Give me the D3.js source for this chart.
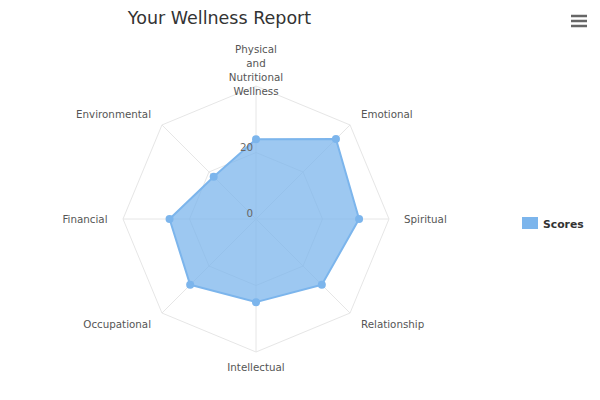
<!DOCTYPE html>
<html><head><meta charset="utf-8">
<script src="https://cdn.jsdelivr.net/npm/d3@7"></script>
<style>body{margin:0;background:#fff}svg{display:block}</style>
</head><body>
<svg id="chart" width="600" height="400"></svg>
<script>
const categories = ["Physical and Nutritional Wellness","Emotional","Spiritual","Relationship","Intellectual","Occupational","Financial","Environmental"];
const scores = [24, 34, 31, 28, 25, 28, 26, 18];
const radialTicks = [0, 20, 40];
const tickLabels = ["0", "20"];
const seriesName = "Scores";
const title = "Your Wellness Report";

const W = 600, H = 400, cx = 256, cy = 219, R = 133;
const FONT = "'DejaVu Sans', sans-serif";
const svg = d3.select("#chart");
svg.append("rect").attr("width", W).attr("height", H).attr("fill", "#fff");

const r = d3.scaleLinear().domain([0, 40]).range([0, R]);
const ang = d3.scaleLinear().domain([0, categories.length]).range([0, 2 * Math.PI]);
const pt = (i, v) => [cx + r(v) * Math.sin(ang(i)), cy - r(v) * Math.cos(ang(i))];

const g = svg.append("g");
// radial lines
categories.forEach((c, i) => {
  const [x, y] = pt(i, 40);
  g.append("line").attr("x1", cx).attr("y1", cy).attr("x2", x).attr("y2", y)
    .attr("stroke", "#e6e6e6").attr("stroke-width", 1);
});
// polygon grid rings
radialTicks.filter(t => t > 0).forEach(t => {
  const pts = categories.map((c, i) => pt(i, t));
  g.append("path").attr("d", d3.line()(pts) + "Z")
    .attr("fill", "none").attr("stroke", "#e6e6e6").attr("stroke-width", 1);
});

// series
const sp = categories.map((c, i) => pt(i, scores[i]));
g.append("path").attr("d", d3.line()(sp) + "Z")
  .attr("fill", "#7cb5ec").attr("fill-opacity", 0.75)
  .attr("stroke", "#7cb5ec").attr("stroke-width", 2).attr("stroke-linejoin", "round");
g.selectAll("circle.m").data(scores).enter().append("circle")
  .attr("cx", (d, i) => pt(i, d)[0]).attr("cy", (d, i) => pt(i, d)[1])
  .attr("r", 4).attr("fill", "#7cb5ec");

// y labels
tickLabels.forEach((t, k) => {
  const v = radialTicks[k];
  g.append("text").attr("x", cx - 3).attr("y", cy - r(v) - 2)
    .attr("text-anchor", "end").attr("font-family", FONT).attr("font-size", "10.3px")
    .attr("fill", "#666").text(t);
});

// category labels
const labelPos = [
  {x: 256, y: 53, anchor: "middle", lines: ["Physical", "and", "Nutritional", "Wellness"]},
  {x: 361, y: 118, anchor: "start"},
  {x: 404, y: 223, anchor: "start"},
  {x: 361, y: 328, anchor: "start"},
  {x: 256, y: 371, anchor: "middle"},
  {x: 151, y: 328, anchor: "end"},
  {x: 107.5, y: 223, anchor: "end"},
  {x: 151, y: 118, anchor: "end"}
];
categories.forEach((c, i) => {
  const p = labelPos[i];
  const t = g.append("text").attr("x", p.x).attr("y", p.y).attr("text-anchor", p.anchor)
    .attr("font-family", FONT).attr("font-size", "10.3px").attr("fill", "#555");
  if (p.lines) {
    p.lines.forEach((l, j) => t.append("tspan").attr("x", p.x).attr("dy", j === 0 ? 0 : 14).text(l));
  } else t.text(c);
});

// title
svg.append("text").attr("x", 219.5).attr("y", 24).attr("text-anchor", "middle")
  .attr("font-family", FONT).attr("font-size", "17.5px").attr("fill", "#333").text(title);

// legend
svg.append("rect").attr("x", 522).attr("y", 217).attr("width", 16).attr("height", 12)
  .attr("fill", "#7cb5ec");
svg.append("text").attr("x", 543).attr("y", 228).attr("font-family", FONT)
  .attr("font-size", "10.8px").attr("font-weight", "bold").attr("fill", "#333").text(seriesName);

// menu icon
[16, 21, 26].forEach(y => {
  svg.append("line").attr("x1", 571).attr("x2", 587).attr("y1", y).attr("y2", y)
    .attr("stroke", "#666").attr("stroke-width", 2.5);
});
</script>
</body></html>
